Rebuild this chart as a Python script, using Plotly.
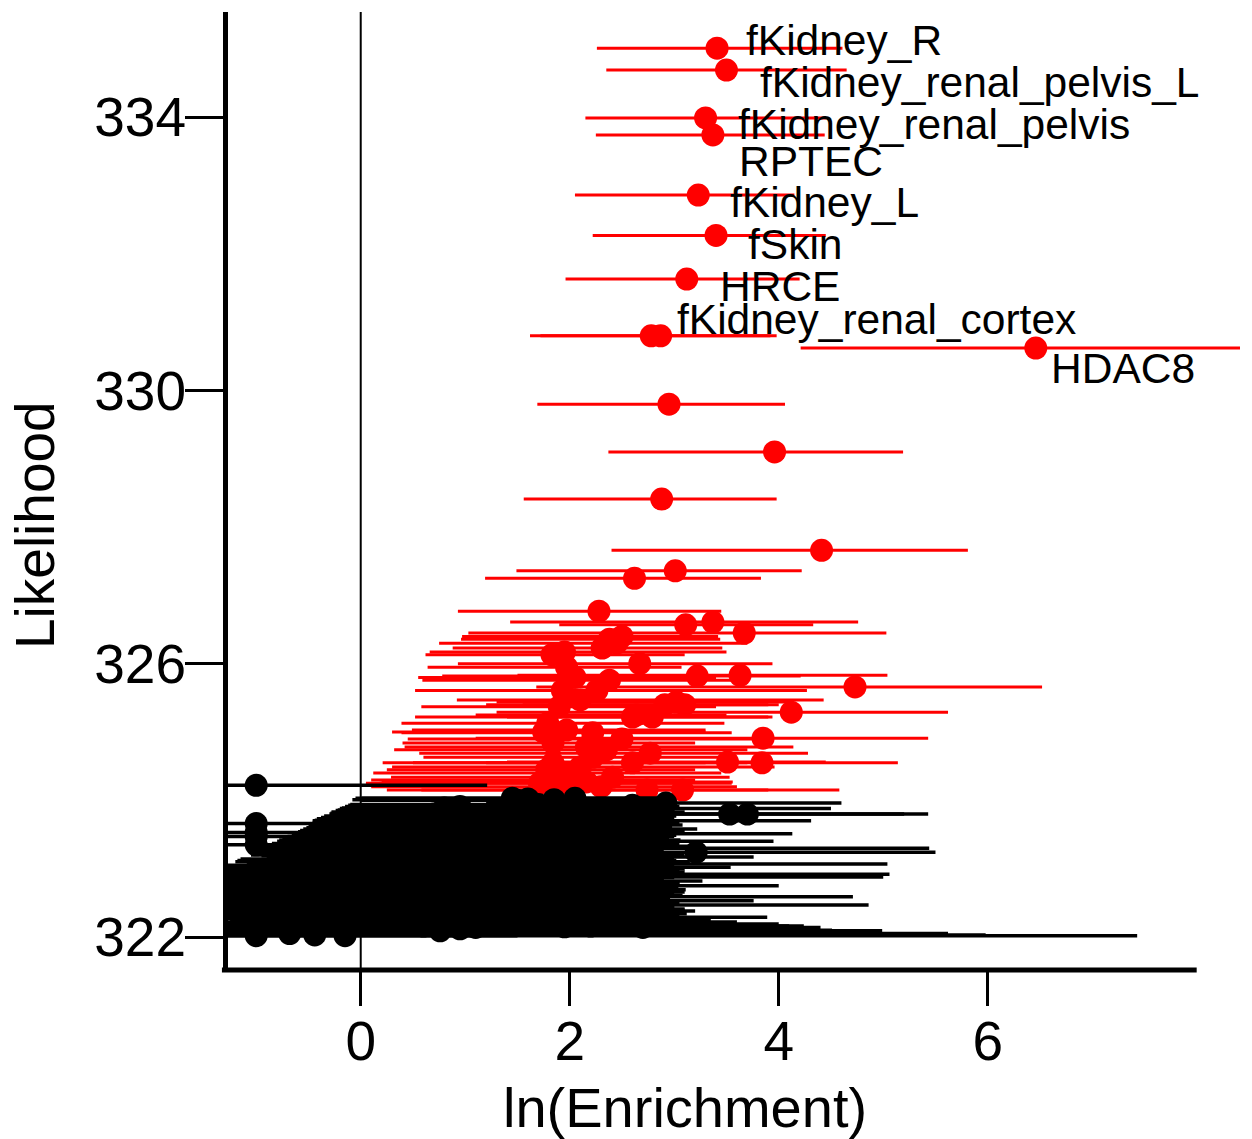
import plotly.graph_objects as go

# ---------------- data ----------------
# Labelled points (red)
lab_names = ["fKidney_R", "fKidney_renal_pelvis_L", "fKidney_renal_pelvis", "RPTEC",
             "fKidney_L", "fSkin", "HRCE", "fKidney_renal_cortex", "HDAC8"]
lab_x = [3.41, 3.50, 3.30, 3.37, 3.23, 3.40, 3.12, 2.78, 6.46]
lab_y = [335.01, 334.69, 333.99, 333.74, 332.86, 332.27, 331.63, 330.80, 330.62]
lab_lo = [2.26, 2.35, 2.15, 2.25, 2.05, 2.22, 1.96, 1.62, 4.21]
lab_hi = [4.61, 4.65, 4.45, 4.44, 4.15, 4.45, 4.20, 3.92, 8.60]

# Other significant points (red)
red_x = [2.87, 2.95, 3.96, 2.88, 4.41, 3.01, 2.62, 2.28, 3.37, 3.11,
         3.67, 2.50, 2.38, 2.31, 1.95, 1.83, 2.45, 2.67, 1.97, 3.22,
         3.63, 2.38, 2.05, 4.73, 2.26, 1.93, 2.10, 3.02, 3.10, 2.91,
         1.90, 4.12, 2.60, 2.79, 2.64, 1.79, 1.97, 1.75, 2.22, 3.85,
         2.50, 1.84, 2.16, 2.35, 2.77, 2.22, 3.51, 3.84, 1.84, 2.60,
         2.10, 1.78, 2.00, 2.41, 1.84, 1.97, 2.16, 1.71, 2.30, 2.74,
         3.08]
red_y = [330.80, 329.80, 329.10, 328.41, 327.66, 327.36, 327.25, 326.77, 326.61, 326.57,
         326.45, 326.40, 326.36, 326.23, 326.17, 326.13, 326.30, 326.00, 325.95, 325.82,
         325.83, 325.76, 325.80, 325.66, 325.61, 325.61, 325.47, 325.44, 325.40, 325.40,
         325.37, 325.29, 325.22, 325.22, 325.25, 325.13, 325.03, 325.00, 324.99, 324.91,
         324.90, 324.84, 324.78, 324.74, 324.69, 324.63, 324.56, 324.55, 324.55, 324.55,
         324.49, 324.45, 324.40, 324.34, 324.30, 324.25, 324.27, 324.25, 324.20, 324.15,
         324.15]
red_lo = [1.72, 1.69, 2.37, 1.56, 2.40, 1.49, 1.19, 0.93, 1.43, 1.90,
          1.03, 0.97, 0.96, 0.88, 0.66, 0.62, 0.75, 0.93, 0.64, 0.78,
          1.50, 0.59, 0.55, 1.68, 0.69, 0.52, 0.92, 1.30, 1.55, 1.20,
          0.58, 1.30, 0.52, 1.40, 1.10, 0.39, 0.49, 0.30, 0.39, 1.10,
          0.45, 0.40, 0.42, 0.32, 0.56, 0.60, 1.40, 1.20, 0.21, 0.50,
          0.30, 0.25, 0.12, 0.29, 0.10, 0.18, 0.20, 0.05, 0.10, 0.25,
          0.58]
red_hi = [3.98, 4.06, 5.19, 3.98, 5.81, 4.22, 3.83, 3.45, 4.76, 4.33,
          5.03, 3.42, 3.44, 3.46, 3.50, 3.10, 3.70, 3.94, 3.07, 4.21,
          5.04, 3.60, 3.40, 6.52, 4.27, 3.30, 4.43, 4.10, 4.00, 3.90,
          3.40, 5.62, 3.94, 3.90, 3.50, 3.48, 3.30, 3.30, 3.55, 5.43,
          3.80, 3.20, 4.14, 3.70, 4.28, 3.60, 4.45, 5.14, 3.30, 3.70,
          3.96, 3.20, 3.45, 3.53, 3.20, 3.55, 3.56, 3.00, 3.60, 3.90,
          4.58]

# Non-significant points (black)
blk_x = [2.05, 1.60, 2.92, 1.45, 1.85, 1.70, 0.95, 2.50, 1.35, 3.53,
         3.70, 1.85, 0.70, 2.20, 1.20, 2.60, 1.55, 0.85, 2.00, 1.40,
         2.40, -1.00, -1.00, -1.00, -1.00, -1.00, -1.00, -1.00, -1.00, -1.00,
         -1.00, -1.00, 1.75, 0.60, 2.15, 1.05, 2.70, 1.50, 3.21, 0.40,
         1.90, 2.35, 0.90, 1.30, 2.55, 0.20, 1.65, 2.10, 0.75, 2.80,
         1.20, 0.45, 1.95, 2.45, 1.00, 0.15, 1.55, 2.25, 0.65, 1.80,
         0.30, 2.60, 1.15, 2.05, 0.50, 1.45, 2.85, 0.05, 1.70, 0.85,
         2.30, 1.25, -0.35, 0.60, 1.95, -0.15, 0.76, 0.95, -0.68, -0.44,
         -0.15, -1.00, -1.00, -1.00, -1.00, -1.00,
         1.50, 2.60, 0.80, 2.10, 1.00, 2.75, 0.55, 1.80, 2.30, 1.10,
         0.45, 2.50, 1.25, 0.30, 2.00, 1.15, 2.60, 0.55, 1.85, 2.40,
         1.40, 2.15, 0.90, 1.70, 2.65, 1.25, 2.05, 0.40, 1.60, 2.40,
         0.95, 1.90, 0.35, 2.55, 1.50, 2.20, 1.10, 2.70]
blk_y = [324.03, 324.02, 323.96, 324.03, 324.01, 323.94, 323.91, 323.88, 323.86, 323.80,
         323.80, 323.83, 323.80, 323.77, 323.73, 323.70, 323.66, 323.62, 323.58, 323.54,
         323.51, 324.22, 323.66, 323.53, 323.47, 323.35, 322.98, 322.80, 322.62, 322.40,
         322.18, 322.02, 323.47, 323.44, 323.40, 323.37, 323.33, 323.30, 323.24, 323.27,
         323.20, 323.17, 323.14, 323.10, 323.07, 323.04, 323.02, 322.98, 322.95, 322.92,
         322.88, 322.85, 322.82, 322.78, 322.75, 322.72, 322.69, 322.66, 322.63, 322.59,
         322.56, 322.53, 322.50, 322.47, 322.44, 322.41, 322.38, 322.35, 322.32, 322.29,
         322.26, 322.22, 322.19, 322.16, 322.15, 322.10, 322.09, 322.12, 322.05, 322.03,
         322.02, 322.90, 322.70, 322.50, 322.30, 322.10,
         324.00, 323.93, 323.89, 323.85, 323.81, 323.75, 323.71, 323.68, 323.64, 323.60,
         323.56, 323.49, 323.42, 323.35, 323.32, 323.22, 323.19, 323.12, 323.05, 323.00,
         322.93, 322.87, 322.80, 322.77, 322.73, 322.67, 322.61, 322.58, 322.52, 322.45,
         322.39, 322.34, 322.27, 322.24, 322.17, 322.16, 322.14, 322.14]
blk_lo = [0.01, 0.00, 1.20, -0.05, -0.08, -0.10, -0.15, -0.20, -0.22, 1.90,
          2.10, -0.28, -0.30, -0.35, -0.42, -0.46, -0.46, -0.50, -0.55, -0.60,
          -0.62, -2.50, -2.50, -2.50, -2.50, -2.50, -2.50, -2.50, -2.50, -2.50,
          -2.50, -2.50, -0.70, -0.75, -0.80, -0.85, -0.50, -0.95, 1.30, -1.00,
          -1.05, -0.90, -1.15, -1.20, -1.00, -1.35, -1.40, -1.30, -1.45, -0.80,
          -1.50, -1.60, -1.40, -1.10, -1.55, -1.70, -1.50, -1.30, -1.65, -1.45,
          -1.80, -1.00, -1.60, -1.35, -1.75, -1.55, -0.90, -1.90, -1.50, -1.70,
          -1.20, -1.65, -2.20, -1.80, -1.40, -2.10, -1.80, -1.70, -2.40, -2.30,
          -2.20, -2.50, -2.50, -2.50, -2.50, -2.50,
          0.00, -0.12, -0.18, -0.24, -0.29, -0.38, -0.44, -0.46, -0.48, -0.52,
          -0.58, -0.66, -0.78, -0.88, -0.92, -1.02, -0.95, -1.18, -1.30, -1.20,
          -1.48, -1.35, -1.55, -1.50, -1.10, -1.60, -1.40, -1.80, -1.60, -1.30,
          -1.75, -1.50, -1.85, -1.25, -1.65, -1.40, -1.75, -1.20]
blk_hi = [2.92, 2.90, 4.60, 2.88, 3.00, 2.95, 3.05, 4.50, 2.98, 5.43,
          5.20, 3.10, 2.95, 3.02, 3.00, 4.31, 3.05, 2.98, 3.22, 3.10,
          4.13, 1.21, -0.25, -0.60, -0.42, -0.85, 0.30, 0.50, 0.90, 1.20,
          0.80, 1.50, 3.00, 2.95, 3.95, 3.05, 3.20, 5.44, 5.50, 2.90,
          3.10, 3.76, 3.00, 3.15, 5.04, 2.95, 3.54, 3.05, 3.10, 5.06,
          5.00, 2.90, 3.27, 3.05, 4.00, 2.95, 3.11, 3.10, 3.00, 4.71,
          2.95, 3.76, 3.05, 4.86, 3.00, 3.10, 3.20, 2.98, 3.05, 3.89,
          3.15, 3.60, 4.00, 4.24, 3.25, 4.51, 4.99, 3.50, 5.62, 5.98,
          7.43, 0.10, 0.70, 1.00, 0.60, 1.10,
          2.96, 2.92, 2.97, 3.00, 2.93, 2.95, 3.00, 2.96, 3.08, 2.94,
          2.98, 3.02, 3.06, 2.95, 3.00, 2.97, 3.05, 3.02, 3.00, 3.10,
          2.96, 3.00, 3.05, 2.98, 3.04, 3.00, 3.08, 2.96, 3.02, 3.00,
          3.10, 3.12, 3.07, 3.35, 3.53, 4.10, 3.80, 4.40]

x_tickvals = [0, 2, 4, 6]
y_tickvals = [322, 326, 330, 334]
x_title = "ln(Enrichment)"
y_title = "Likelihood"

# ---------------- style ----------------
FONT = "Liberation Sans, Arial, sans-serif"
MARKER_SIZE = 23
RED_BAR_W = 3
BLK_BAR_W = 3.5
# label offsets from the marker centre (pixels): (dx, dy up)
label_offsets = [(27, 8), (32, -12), (30, -7), (24, -27), (30, -7),
                 (30, -9), (31, -7), (24, 16), (13, -20)]


def err(xs, lo, hi):
    plus = [h - x for x, h in zip(xs, hi)]
    minus = [x - l for x, l in zip(xs, lo)]
    return plus, minus


fig = go.Figure()

rp, rm = err(red_x, red_lo, red_hi)
fig.add_trace(go.Scatter(
    x=red_x, y=red_y, mode="markers",
    marker=dict(color="#ff0000", size=MARKER_SIZE, line=dict(width=0)),
    error_x=dict(type="data", symmetric=False, array=rp, arrayminus=rm,
                 color="#ff0000", thickness=RED_BAR_W, width=0),
    hoverinfo="skip"))

lp, lm = err(lab_x, lab_lo, lab_hi)
fig.add_trace(go.Scatter(
    x=lab_x, y=lab_y, mode="markers",
    marker=dict(color="#ff0000", size=MARKER_SIZE, line=dict(width=0)),
    error_x=dict(type="data", symmetric=False, array=lp, arrayminus=lm,
                 color="#ff0000", thickness=RED_BAR_W, width=0),
    hoverinfo="skip"))

bp, bm = err(blk_x, blk_lo, blk_hi)
fig.add_trace(go.Scatter(
    x=blk_x, y=blk_y, mode="markers",
    marker=dict(color="#000000", size=MARKER_SIZE, line=dict(width=0)),
    error_x=dict(type="data", symmetric=False, array=bp, arrayminus=bm,
                 color="#000000", thickness=BLK_BAR_W, width=0),
    hoverinfo="skip"))

annotations = []
for name, x, y, (dx, dy) in zip(lab_names, lab_x, lab_y, label_offsets):
    annotations.append(dict(x=x, y=y, xref="x", yref="y", text=name,
                            showarrow=False, xanchor="left", yanchor="middle",
                            xshift=dx, yshift=dy,
                            font=dict(family=FONT, size=42.5, color="black")))

annotations.append(dict(x=0.4516, y=-0.144, xref="paper", yref="paper",
                        text=x_title, showarrow=False, xanchor="center",
                        yanchor="middle", font=dict(family=FONT, size=56, color="black")))
annotations.append(dict(x=-0.1907, y=0.4645, xref="paper", yref="paper",
                        text=y_title, showarrow=False, xanchor="center",
                        yanchor="middle", textangle=-90,
                        font=dict(family=FONT, size=55, color="black")))

shapes = [
    # vertical reference line at x = 0
    dict(type="line", xref="x", yref="paper", x0=0, x1=0, y0=0, y1=1,
         line=dict(color="black", width=2), layer="below"),
    # x axis line (ends at 8)
    dict(type="line", xref="paper", yref="paper", x0=-0.006, x1=0.9572, y0=0, y1=0,
         line=dict(color="black", width=5), layer="above"),
]

fig.update_layout(
    width=1252, height=1139,
    margin=dict(l=228, r=12, t=12, b=169),
    paper_bgcolor="white", plot_bgcolor="white",
    showlegend=False,
    font=dict(family=FONT, color="black"),
    annotations=annotations,
    shapes=shapes,
    xaxis=dict(range=[-1.27, 8.414], tickvals=x_tickvals, ticks="outside",
               ticklen=35, tickwidth=3, tickcolor="black", showline=False,
               showgrid=False, zeroline=False, ticklabelstandoff=-12,
               tickfont=dict(family=FONT, size=55, color="black")),
    yaxis=dict(range=[321.517, 335.54], tickvals=y_tickvals, ticks="outside",
               ticklen=38, tickwidth=3, tickcolor="black", showline=True,
               linewidth=5, linecolor="black", showgrid=False, zeroline=False,
               ticklabelstandoff=-12,
               tickfont=dict(family=FONT, size=55, color="black")),
)

fig.write_html("out.html", config={"displayModeBar": False},
               post_script="document.body.style.margin='0';document.body.style.overflow='hidden';")
